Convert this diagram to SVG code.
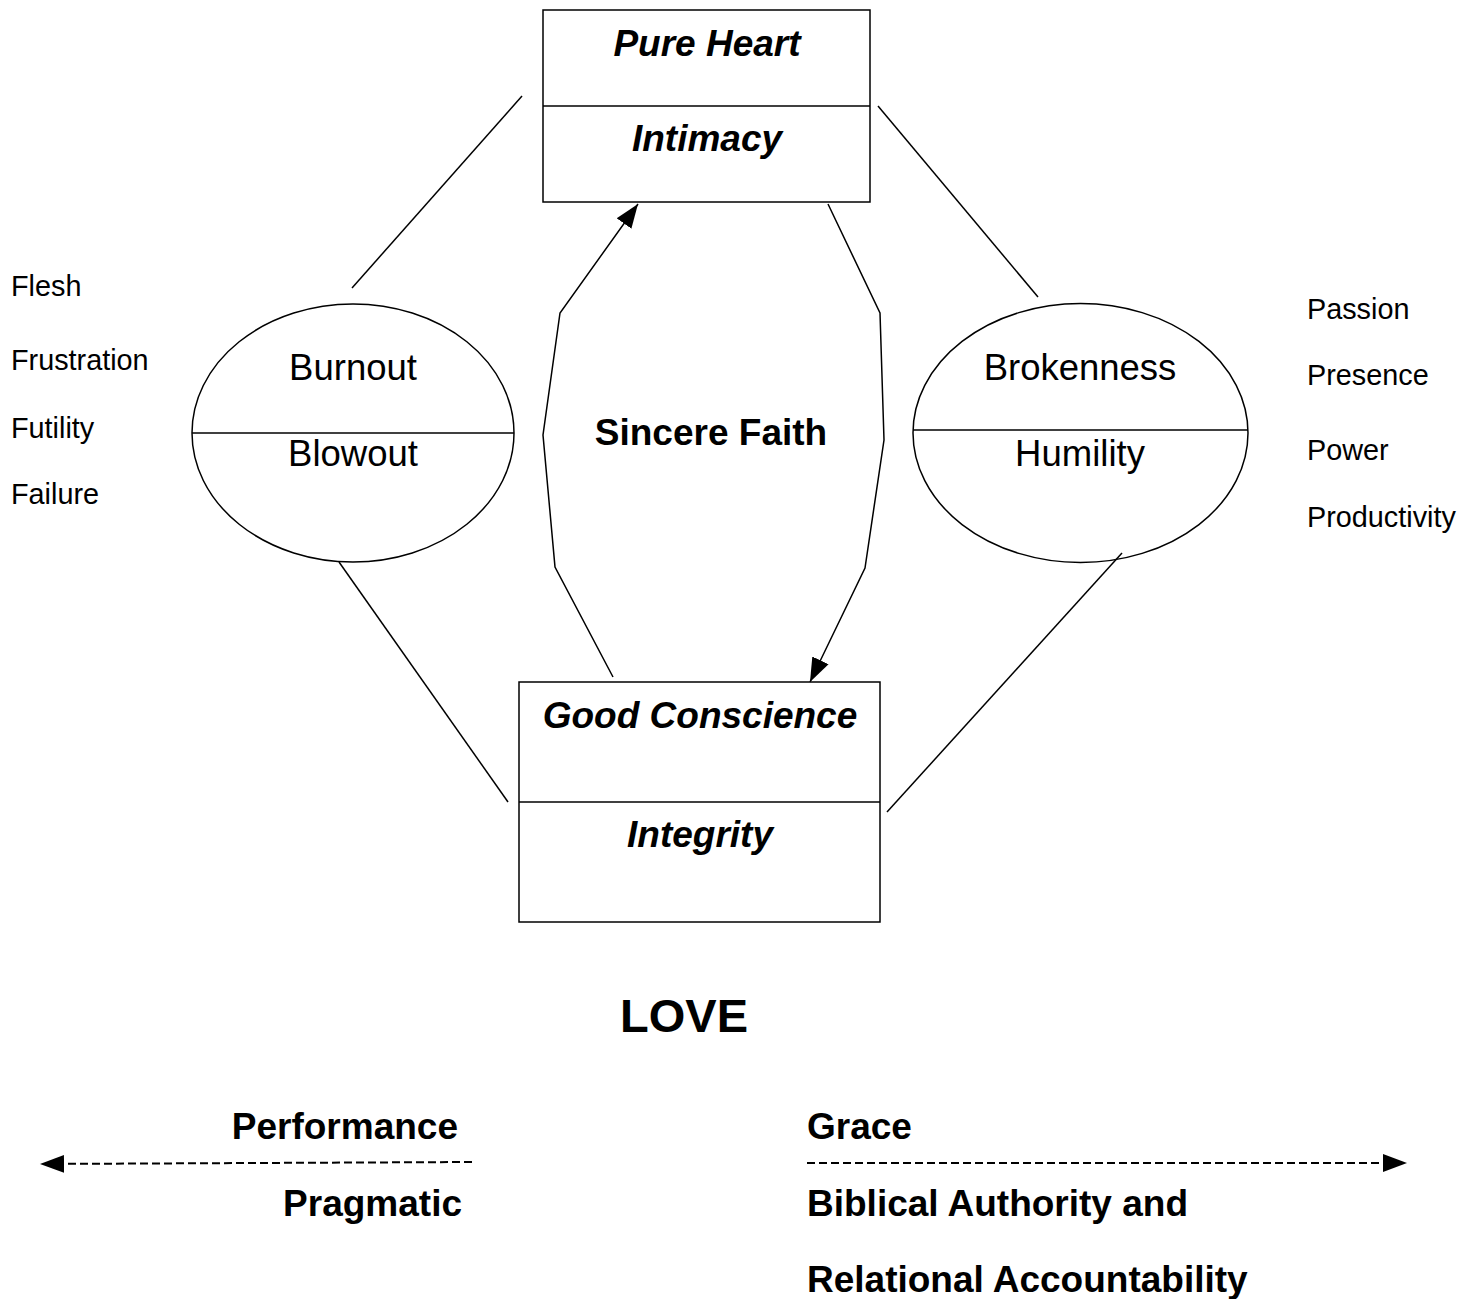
<svg xmlns="http://www.w3.org/2000/svg" width="1475" height="1299" viewBox="0 0 1475 1299">
<style>
.s{fill:none;stroke:#000;stroke-width:1.5}
.t{font-family:"Liberation Sans",Arial,sans-serif;fill:#000}
.bi{font-weight:bold;font-style:italic;font-size:37px}
.b{font-weight:bold;font-size:37px}
.r{font-size:36.5px}
.l{font-size:28.8px}
.d{fill:none;stroke:#000;stroke-width:2;stroke-dasharray:8,4}
</style>
<defs>
<marker id="big" viewBox="0 0 24 24" markerWidth="24" markerHeight="24" refX="24" refY="12" orient="auto" markerUnits="userSpaceOnUse">
<path d="M0,3 L24,12 L0,21 Z" fill="#000"/>
</marker>
</defs>
<rect width="1475" height="1299" fill="#fff"/>
<g id="connectors">
<line class="s" x1="522" y1="96" x2="352" y2="288"/>
<line class="s" x1="878" y1="106" x2="1038" y2="297"/>
<line class="s" x1="339" y1="562" x2="508" y2="802"/>
<line class="s" x1="1122" y1="553" x2="887" y2="812"/>
<polyline class="s" points="613,677 555,567 543,435 560,313 638,204" marker-end="url(#big)"/>
<polyline class="s" points="828,204 880,313 884,440 865,568 810,682" marker-end="url(#big)"/>
<line class="d" x1="472" y1="1162" x2="40" y2="1164" marker-end="url(#big)"/>
<line class="d" x1="807" y1="1163" x2="1407" y2="1163" marker-end="url(#big)"/>
</g>
<g id="pure-heart">
<rect class="s" x="543" y="10" width="327" height="192"/>
<line class="s" x1="543" y1="106" x2="870" y2="106"/>
<text class="t bi" x="707" y="56" text-anchor="middle">Pure Heart</text>
<text class="t bi" x="707" y="151" text-anchor="middle">Intimacy</text>
</g>
<g id="good-conscience">
<rect class="s" x="519" y="682" width="361" height="240"/>
<line class="s" x1="519" y1="802" x2="880" y2="802"/>
<text class="t bi" x="700" y="728" text-anchor="middle">Good Conscience</text>
<text class="t bi" x="700" y="847" text-anchor="middle">Integrity</text>
</g>
<g id="burnout">
<ellipse class="s" cx="353" cy="433" rx="161" ry="129"/>
<line class="s" x1="192" y1="433" x2="514" y2="433"/>
<text class="t r" x="353" y="380" text-anchor="middle">Burnout</text>
<text class="t r" x="353" y="466" text-anchor="middle">Blowout</text>
</g>
<g id="brokenness">
<ellipse class="s" cx="1080.5" cy="433" rx="167.5" ry="129.5"/>
<line class="s" x1="913" y1="430" x2="1248" y2="430"/>
<text class="t r" x="1080" y="380" text-anchor="middle">Brokenness</text>
<text class="t r" x="1080" y="466" text-anchor="middle">Humility</text>
</g>
<g id="sincere-faith">
<text class="t b" x="711" y="445" text-anchor="middle">Sincere Faith</text>
</g>
<g id="left-list">
<text class="t l" x="11" y="296">Flesh</text>
<text class="t l" x="11" y="370">Frustration</text>
<text class="t l" x="11" y="438">Futility</text>
<text class="t l" x="11" y="504">Failure</text>
</g>
<g id="right-list">
<text class="t l" x="1307" y="319">Passion</text>
<text class="t l" x="1307" y="385">Presence</text>
<text class="t l" x="1307" y="460">Power</text>
<text class="t l" x="1307" y="527">Productivity</text>
</g>
<g id="love">
<text class="t" x="684" y="1032" text-anchor="middle" font-weight="bold" font-size="47">LOVE</text>
</g>
<g id="performance">
<text class="t b" x="458" y="1139" text-anchor="end">Performance</text>
<text class="t b" x="462" y="1216" text-anchor="end">Pragmatic</text>
</g>
<g id="grace">
<text class="t b" x="807" y="1139">Grace</text>
<text class="t b" x="807" y="1216">Biblical Authority and</text>
<text class="t b" x="807" y="1292">Relational Accountability</text>
</g>
</svg>
